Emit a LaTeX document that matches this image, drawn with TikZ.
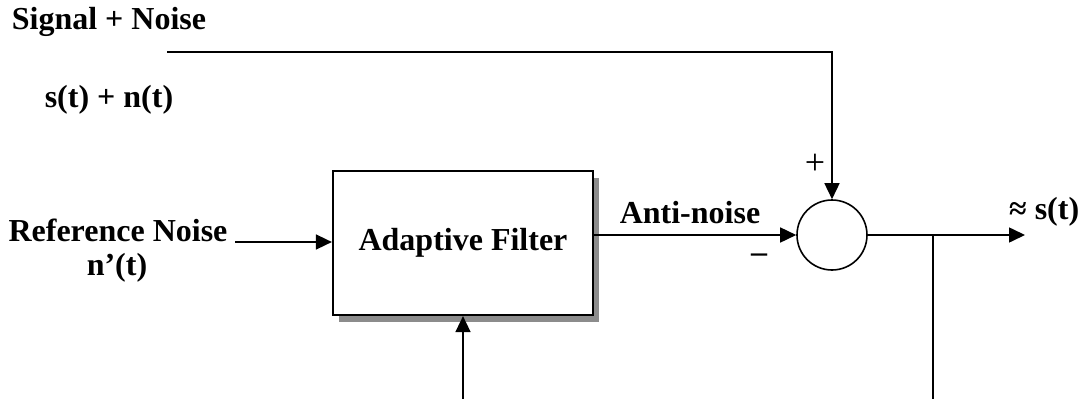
\documentclass[tikz,border=0pt]{standalone}
\usepackage{fontspec}
\setmainfont{Liberation Serif}
\usetikzlibrary{arrows.meta,shadows}
\begin{document}
\begin{tikzpicture}[x=1pt,y=-1pt,
  lbl/.style={font=\fontsize{32}{38}\selectfont\bfseries, inner sep=0pt},
  sgn/.style={font=\fontsize{36}{40}\selectfont, inner sep=0pt},
  wire/.style={line width=1.6pt},
  arr/.style={wire,-{Triangle[length=16pt,width=15pt]}},
  filterbox/.style={draw, line width=2.2pt, fill=white, minimum width=260pt, minimum height=144pt,
    drop shadow={shadow xshift=6pt, shadow yshift=-7pt, fill=gray!90, opacity=1}},
  sumnode/.style={draw, circle, line width=1.6pt, minimum size=70pt, inner sep=0pt}]
\useasboundingbox (0,0) rectangle (1082,399);

\node[filterbox, lbl] (box) at (463,243) {Adaptive Filter};
\node[sumnode] (sum) at (832,235) {};

\node[lbl] (sig) at (109,22) {Signal + Noise};
\node[lbl] (snt) at (109,100) {s(t) + n(t)};
\node[lbl] (ref) at (118,230) {Reference Noise};
\node[lbl] (np) at (117,268) {n’(t)};
\node[lbl] (anti) at (690,213) {Anti-noise};
\node[sgn] (plus) at (815,164) {+};
\node[lbl] (minus) at (759,258) {–};
\node[lbl, anchor=west] (outl) at (1009,212) {≈ s(t)};

\coordinate (topstart) at (167,52);
\coordinate (refin) at (235,242);
\coordinate (outend) at (1025,235);
\coordinate (branch) at (933,235);
\coordinate (bottom) at (933,410);

\draw[arr] (topstart) -| (sum.north);
\draw[arr] (refin) -- (refin -| box.west);
\draw[arr] (box.east |- sum) -- (sum.west);
\draw[arr] (sum.east) -- (outend);
\draw[arr] (branch) -- (bottom) -| (box.south);
\end{tikzpicture}
\end{document}
